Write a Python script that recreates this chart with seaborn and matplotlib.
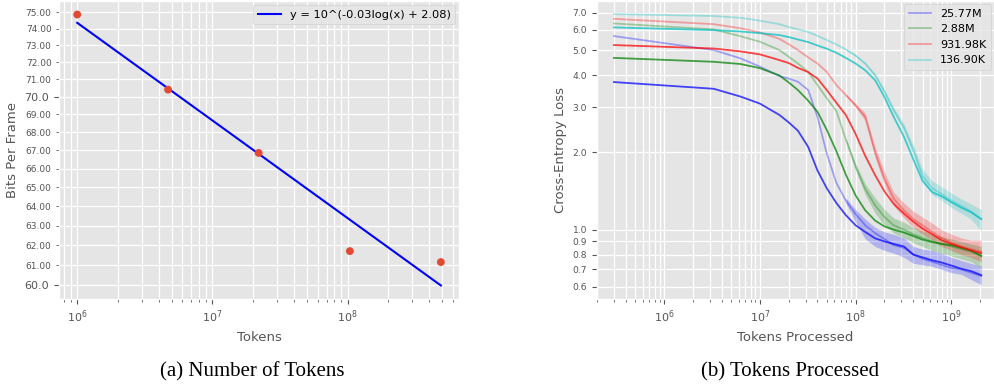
import numpy as np
import matplotlib
matplotlib.use("Agg")
import matplotlib.pyplot as plt
import seaborn as sns
from matplotlib.ticker import FixedLocator, FormatStrFormatter, NullLocator

# ---------------- data: (a) Number of Tokens ----------------
num_tokens = [1.0e6, 4.7e6, 2.2e7, 1.04e8, 4.9e8]
bits_per_frame = [74.85, 70.4, 66.85, 61.7, 61.15]

# ---------------- data: (b) Tokens Processed ----------------
tokens_processed = [3.0e5, 3.3e6, 6.3e6, 1.0e7, 1.6e7, 2.0e7, 2.5e7, 3.2e7, 4.0e7,
                    5.0e7, 6.3e7, 7.9e7, 1.0e8, 1.26e8, 1.6e8, 2.0e8, 2.5e8, 3.2e8,
                    4.0e8, 5.0e8, 6.3e8, 7.9e8, 1.0e9, 1.26e9, 1.6e9, 2.05e9]
model_names = ["25.77M", "2.88M", "931.98K", "136.90K"]

loss_25m_raw = [5.68, 5.01, 4.65, 4.32, 3.97, 3.88, 3.77, 3.50, 2.75, 1.98, 1.52, 1.30, 1.15,
                1.04, 0.97, 0.92, 0.87, 0.85, 0.80, 0.77, 0.75, 0.73, 0.71, 0.70, 0.68, 0.66]
loss_25m_smooth = [3.76, 3.54, 3.30, 3.10, 2.80, 2.62, 2.43, 2.10, 1.70, 1.45, 1.27, 1.14, 1.04,
                   0.98, 0.925, 0.90, 0.88, 0.86, 0.80, 0.78, 0.76, 0.745, 0.725, 0.705, 0.69, 0.665]
loss_2m_raw = [6.36, 6.03, 5.67, 5.40, 5.01, 4.72, 4.44, 4.12, 3.66, 3.25, 2.90, 2.25, 1.76,
               1.44, 1.245, 1.12, 1.04, 1.00, 0.96, 0.93, 0.90, 0.88, 0.86, 0.84, 0.82, 0.79]
loss_2m_smooth = [4.67, 4.51, 4.42, 4.26, 3.99, 3.75, 3.50, 3.18, 2.88, 2.45, 2.02, 1.64, 1.36,
                  1.19, 1.085, 1.03, 1.00, 0.975, 0.945, 0.915, 0.895, 0.88, 0.87, 0.85, 0.83, 0.79]
loss_931k_raw = [6.63, 6.32, 6.09, 5.87, 5.54, 5.28, 5.01, 4.69, 4.44, 4.12, 3.66, 3.35, 3.05,
                 2.75, 2.00, 1.58, 1.32, 1.19, 1.10, 1.04, 0.98, 0.93, 0.89, 0.86, 0.84, 0.82]
loss_931k_smooth = [5.24, 5.08, 4.95, 4.82, 4.58, 4.46, 4.27, 4.11, 3.88, 3.50, 3.12, 2.80, 2.36,
                    1.94, 1.63, 1.41, 1.26, 1.155, 1.075, 1.01, 0.96, 0.91, 0.88, 0.855, 0.83, 0.81]
loss_136k_raw = [6.92, 6.80, 6.69, 6.52, 6.32, 6.16, 6.03, 5.89, 5.69, 5.48, 5.27, 5.04, 4.77,
                 4.44, 4.00, 3.45, 2.92, 2.50, 2.05, 1.62, 1.45, 1.38, 1.30, 1.24, 1.18, 1.10]
loss_136k_smooth = [6.14, 5.99, 5.92, 5.83, 5.73, 5.63, 5.51, 5.38, 5.22, 5.07, 4.89, 4.67, 4.44,
                    4.18, 3.82, 3.29, 2.75, 2.30, 1.88, 1.55, 1.40, 1.35, 1.28, 1.22, 1.17, 1.10]

# noisy spread of the raw curves late in training (read envelopes)
tail_tokens = [7.9e7, 1.0e8, 1.26e8, 1.6e8, 2.0e8, 2.5e8, 3.2e8, 4.0e8, 5.0e8, 6.3e8, 7.9e8,
               1.0e9, 1.26e9, 1.6e9, 2.05e9]
band_25m_lo = [1.27, 1.07, 0.92, 0.86, 0.83, 0.81, 0.78, 0.74, 0.73, 0.72, 0.70, 0.68, 0.67, 0.64, 0.61]
band_25m_hi = [1.33, 1.20, 1.10, 1.02, 0.98, 0.96, 0.93, 0.86, 0.84, 0.83, 0.81, 0.78, 0.76, 0.74, 0.72]
band_2m_lo = [2.22, 1.71, 1.37, 1.16, 1.04, 0.97, 0.93, 0.89, 0.86, 0.83, 0.81, 0.79, 0.77, 0.75, 0.71]
band_2m_hi = [2.28, 1.81, 1.51, 1.33, 1.20, 1.11, 1.07, 1.02, 0.99, 0.96, 0.94, 0.92, 0.90, 0.88, 0.86]
band_931k_lo = [3.32, 3.00, 2.66, 1.91, 1.50, 1.24, 1.11, 1.02, 0.96, 0.91, 0.86, 0.83, 0.80, 0.78, 0.75]
band_931k_hi = [3.38, 3.10, 2.85, 2.10, 1.68, 1.40, 1.27, 1.18, 1.12, 1.06, 1.00, 0.96, 0.93, 0.91, 0.91]
band_136k_lo = [5.01, 4.73, 4.40, 3.95, 3.38, 2.85, 2.42, 1.96, 1.54, 1.37, 1.30, 1.22, 1.16, 1.10, 0.99]
band_136k_hi = [5.07, 4.81, 4.48, 4.05, 3.52, 2.99, 2.58, 2.14, 1.72, 1.55, 1.47, 1.39, 1.32, 1.26, 1.20]

# ---------------- style ----------------
plt.style.use("ggplot")
plt.rcParams["font.family"] = ["DejaVu Sans"]
plt.rcParams["axes.labelcolor"] = "#555555"

fig = plt.figure(figsize=(9.94, 3.85), dpi=100)
ax1 = fig.add_axes([0.0594, 0.2234, 0.4024, 0.774])
ax2 = fig.add_axes([0.6006, 0.2234, 0.3994, 0.774])

# ---------------- (a) ----------------
lx = np.log10(num_tokens)
ly = np.log10(bits_per_frame)
m, b = np.polyfit(lx, ly, 1)
fit_vals = 10 ** (m * lx + b)
sns.lineplot(x=num_tokens, y=fit_vals, ax=ax1, color="blue", lw=1.5,
             label=f"y = 10^({m:.2f}log(x) + {b:.2f})")
sns.scatterplot(x=num_tokens, y=bits_per_frame, ax=ax1, color="#E24A33", s=32,
                edgecolor="none", zorder=3)
ax1.set_xscale("log")
ax1.set_yscale("log")
ax1.yaxis.set_major_locator(FixedLocator([60, 70]))
ax1.yaxis.set_major_formatter(FormatStrFormatter("%.1f"))
ax1.yaxis.set_minor_locator(FixedLocator([61, 62, 63, 64, 65, 66, 67, 68, 69,
                                          71, 72, 73, 74, 75]))
ax1.yaxis.set_minor_formatter(FormatStrFormatter("%.2f"))
ax1.tick_params(axis="y", which="major", labelsize=8)
ax1.tick_params(axis="y", which="minor", labelsize=6.5)
ax1.tick_params(axis="x", which="major", labelsize=8)
ax1.grid(True, which="both", color="white", lw=0.9)
ax1.set_xlabel("Tokens", fontsize=9.5)
ax1.set_ylabel("Bits Per Frame", fontsize=9.5)
ax1.legend(loc="upper right", fontsize=8.2, borderaxespad=0.35)

# ---------------- (b) ----------------
series = [
    (model_names[0], loss_25m_raw, loss_25m_smooth, band_25m_lo, band_25m_hi, "blue"),
    (model_names[1], loss_2m_raw, loss_2m_smooth, band_2m_lo, band_2m_hi, "green"),
    (model_names[2], loss_931k_raw, loss_931k_smooth, band_931k_lo, band_931k_hi, "red"),
    (model_names[3], loss_136k_raw, loss_136k_smooth, band_136k_lo, band_136k_hi, "c"),
]
handles = []
for name, raw, smooth, lo, hi, col in series:
    sns.lineplot(x=tokens_processed, y=raw, ax=ax2, color=col, alpha=0.32, lw=1.3)
    handles.append(ax2.lines[-1])
    ax2.fill_between(tail_tokens, lo, hi, color=col, alpha=0.22, lw=0)
    sns.lineplot(x=tokens_processed, y=smooth, ax=ax2, color=col, alpha=0.72, lw=1.3)

ax2.set_xscale("log")
ax2.set_yscale("log")
ax2.set_xlim(10 ** 5.30, 10 ** 9.445)
ax2.set_ylim(0.537, 7.78)
ax2.yaxis.set_major_locator(FixedLocator([0.6, 0.7, 0.8, 0.9, 1.0, 2, 3, 4, 5, 6, 7]))
ax2.yaxis.set_major_formatter(FormatStrFormatter("%.1f"))
ax2.yaxis.set_minor_locator(NullLocator())
ax2.tick_params(axis="y", which="major", labelsize=6.6)
ax2.tick_params(axis="x", which="major", labelsize=8)
ax2.grid(True, which="both", color="white", lw=0.9)
ax2.set_xlabel("Tokens Processed", fontsize=9.5)
ax2.set_ylabel("Cross-Entropy Loss", fontsize=9.5)
ax2.legend(handles, model_names, loc="upper right", fontsize=8, borderaxespad=0.3)

# ---------------- captions ----------------
fig.text(0.2535, 0.034, "(a) Number of Tokens", ha="center", va="center",
         fontsize=15, family=["Liberation Serif"], color="black")
fig.text(0.795, 0.034, "(b) Tokens Processed", ha="center", va="center",
         fontsize=15, family=["Liberation Serif"], color="black")

fig.savefig("out.png", dpi=100)
